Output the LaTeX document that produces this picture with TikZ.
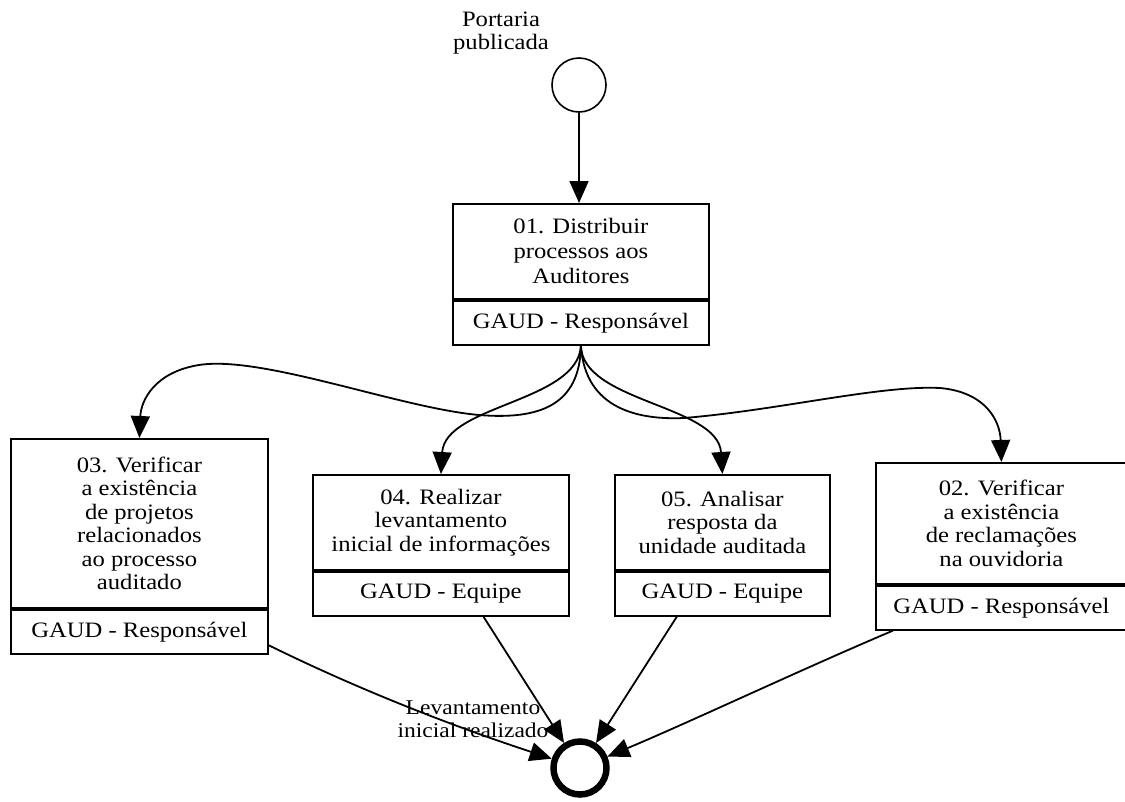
\documentclass[tikz,border=0pt]{standalone}
\usepackage{fontspec}
\setmainfont{Liberation Serif}[FakeStretch=1.12]
\usetikzlibrary{arrows.meta,calc}
\newcommand\dgmfont{\fontsize{22}{23.5}\selectfont}
\newcommand\dgmsmall{\fontsize{21}{23}\selectfont}
\begin{document}
\begin{tikzpicture}[x=1pt,y=-1pt,
  box/.style={draw, line width=1.8pt, rectangle, inner sep=0pt, align=center, font=\dgmfont},
  upper/.style={box, anchor=north west},
  lower/.style={box, anchor=north, minimum height=44pt},
  flow/.style={line width=1.8pt, -{Triangle[length=22pt,width=19pt]}},
  lbl/.style={align=center, inner sep=0pt}
]
\useasboundingbox (0,0) rectangle (1125,801);

% start and end events
\node[circle, draw, line width=1.6pt, minimum size=54pt, inner sep=0pt] (st) at (579,85) {};
\node[lbl, font=\dgmfont] (stlbl) at (501,33) {Portaria\\publicada};
\node[circle, draw, line width=6.5pt, minimum size=53pt, inner sep=0pt] (done) at (580,768) {};

% tasks: description compartment above, performer compartment below
\node[upper, minimum width=256pt, minimum height=95pt, font=\fontsize{22}{25}\selectfont] (t01) at (452,203)
  {01. Distribuir\\processos aos\\Auditores};
\node[lower, minimum width=256pt] (t01r) at (t01.south) {GAUD - Respons\'avel};

\node[upper, minimum width=257pt, minimum height=169pt] (t03) at (10,438)
  {03. Verificar\\a exist\^encia\\de projetos\\relacionados\\ao processo\\auditado};
\node[lower, minimum width=257pt] (t03r) at (t03.south) {GAUD - Respons\'avel};

\node[upper, minimum width=256pt, minimum height=95pt] (t04) at (312,474)
  {04. Realizar\\levantamento\\inicial de informa\c{c}\~oes};
\node[lower, minimum width=256pt] (t04r) at (t04.south) {GAUD - Equipe};

\node[upper, minimum width=215pt, minimum height=95pt] (t05) at (614,474)
  {05. Analisar\\resposta da\\unidade auditada};
\node[lower, minimum width=215pt] (t05r) at (t05.south) {GAUD - Equipe};

\node[upper, minimum width=251pt, minimum height=121pt] (t02) at (875,462)
  {02. Verificar\\a exist\^encia\\de reclama\c{c}\~oes\\na ouvidoria};
\node[lower, minimum width=251pt] (t02r) at (t02.south) {GAUD - Respons\'avel};

\node[lbl, font=\dgmsmall] (donelbl) at (473,719) {Levantamento\\inicial realizado};

% flows
\draw[flow] (st.south) -- (st.south |- t01.north);

\draw[flow] (t01r.south) .. controls (580,405) and (540,420) .. (479,415)
  .. controls (400,408) and (262,355) .. (199,365)
  .. controls (155,372) and (141,400) .. (t03.north);
\draw[flow] (t01r.south) .. controls (578,402) and (445,405) .. (t04.north);
\draw[flow] (t01r.south) .. controls (582,402) and (718,405) .. (t05.north);
\draw[flow] (t01r.south) .. controls (585,410) and (640,420) .. (684,418)
  .. controls (780,410) and (880,385) .. (940,388)
  .. controls (985,392) and (1000,420) .. (t02.north);

\draw[flow] (t03r.-6) .. controls (380,700) and (480,735) .. (done);
\draw[flow] ($(t04r.south)!0.33!(t04r.south east)$) -- (done);
\draw[flow] ($(t05r.south)!0.42!(t05r.south west)$) -- (done);
\draw[flow] ($(t02r.south west)+(18,0)$) .. controls (800,670) and (690,722) .. (done);
\end{tikzpicture}
\end{document}
